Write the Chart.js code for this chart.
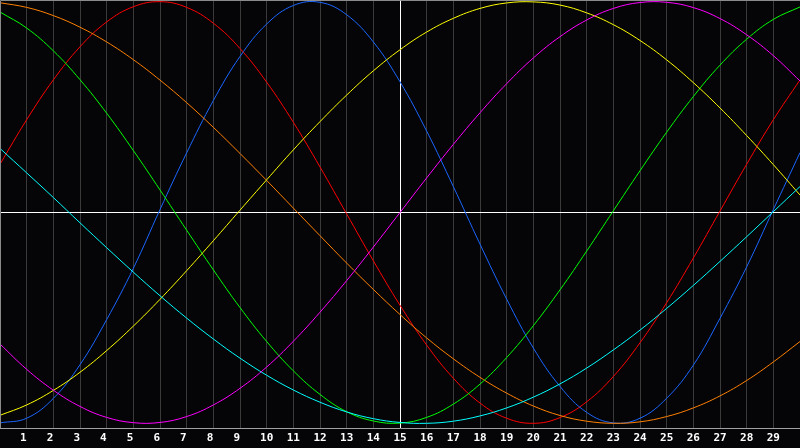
<!DOCTYPE html>
<html>
<head>
<meta charset="utf-8">
<script src="https://cdn.jsdelivr.net/npm/chart.js@4.4.1/dist/chart.umd.min.js"></script>
<style>
  html, body { margin: 0; padding: 0; background: #050508; }
  #wrap { width: 800px; height: 448px; }
</style>
</head>
<body>
<div id="wrap"><canvas id="c" width="800" height="448"></canvas></div>
<script>
const xValues = [0,1,2,3,4,5,6,7,8,9,10,11,12,13,14,15,16,17,18,19,20,21,22,23,24,25,26,27,28,29,30];
const tickLabels = ['1','2','3','4','5','6','7','8','9','10','11','12','13','14','15','16','17','18','19','20','21','22','23','24','25','26','27','28','29'];

const redSeries = [0.229,0.440,0.629,0.786,0.904,0.976,1.000,0.973,0.898,0.778,0.618,0.428,0.216,-0.007,-0.229,-0.440,-0.629,-0.786,-0.904,-0.976,-1.000,-0.973,-0.898,-0.778,-0.618,-0.428,-0.216,0.007,0.229,0.440,0.629];
const orangeSeries = [0.995,0.973,0.934,0.879,0.809,0.725,0.628,0.521,0.404,0.280,0.152,0.021,-0.110,-0.240,-0.365,-0.484,-0.595,-0.694,-0.782,-0.857,-0.918,-0.963,-0.990,-1.000,-0.993,-0.968,-0.927,-0.870,-0.797,-0.709,-0.612];
const greenSeries = [0.951,0.875,0.767,0.630,0.471,0.294,0.107,-0.084,-0.272,-0.451,-0.612,-0.751,-0.863,-0.945,-0.989,-0.999,-0.972,-0.909,-0.814,-0.688,-0.537,-0.367,-0.183,0.008,0.198,0.381,0.550,0.699,0.822,0.916,0.975];
const yellowSeries = [-0.962,-0.913,-0.844,-0.758,-0.655,-0.539,-0.412,-0.276,-0.134,0.011,0.155,0.297,0.431,0.557,0.672,0.772,0.856,0.921,0.968,0.994,0.999,0.984,0.947,0.891,0.816,0.724,0.616,0.496,0.365,0.227,0.083];
const blueSeries = [-0.998,-0.976,-0.882,-0.722,-0.508,-0.265,0.014,0.283,0.531,0.740,0.894,0.982,0.997,0.938,0.809,0.620,0.386,0.123,-0.150,-0.411,-0.643,-0.825,-0.948,-0.998,-0.976,-0.881,-0.724,-0.502,-0.258,0.014,0.284];
const magentaSeries = [-0.624,-0.744,-0.843,-0.920,-0.972,-0.997,-0.996,-0.968,-0.913,-0.834,-0.733,-0.611,-0.473,-0.323,-0.164,0.000,0.164,0.323,0.473,0.611,0.733,0.834,0.913,0.968,0.996,0.997,0.972,0.920,0.843,0.744,0.624];
const cyanSeries = [0.304,0.188,0.071,-0.049,-0.167,-0.283,-0.395,-0.501,-0.600,-0.691,-0.772,-0.842,-0.900,-0.946,-0.978,-0.996,-1.000,-0.990,-0.965,-0.927,-0.876,-0.813,-0.738,-0.652,-0.558,-0.455,-0.346,-0.232,-0.115,0.004,0.123];

const seriesList = [
  { name: 'Magenta', values: magentaSeries, color: '#ff00ff' },
  { name: 'Cyan', values: cyanSeries, color: '#00ffff' },
  { name: 'Yellow', values: yellowSeries, color: '#ffff00' },
  { name: 'Green', values: greenSeries, color: '#00ff00' },
  { name: 'Orange', values: orangeSeries, color: '#ff8000' },
  { name: 'Blue', values: blueSeries, color: '#1a66ff' },
  { name: 'Red', values: redSeries, color: '#ff0000' }
];

const bgPlugin = {
  id: 'bg',
  beforeDraw(chart) {
    const c = chart.ctx;
    c.save();
    c.fillStyle = '#050508';
    c.fillRect(0, 0, chart.width, chart.height);
    c.restore();
  },
  beforeDatasetsDraw(chart) {
    const c = chart.ctx;
    const a = chart.chartArea;
    const yPix = Math.round(chart.scales.y.getPixelForValue(0)) + 0.5;
    c.save();
    c.strokeStyle = '#ffffff';
    c.lineWidth = 1;
    c.beginPath();
    c.moveTo(a.left, yPix);
    c.lineTo(a.right, yPix);
    c.stroke();
    c.restore();
  },
  afterDraw(chart) {
    const c = chart.ctx;
    const a = chart.chartArea;
    c.save();
    c.strokeStyle = '#8a8a8a';
    c.lineWidth = 1;
    c.beginPath();
    c.moveTo(a.left + 0.5, a.bottom);
    c.lineTo(a.left + 0.5, a.top + 0.5);
    c.lineTo(a.right, a.top + 0.5);
    c.stroke();
    c.restore();
  }
};

new Chart(document.getElementById('c'), {
  type: 'line',
  data: {
    datasets: seriesList.map(s => ({
      label: s.name,
      data: xValues.map((x, i) => ({ x: x, y: s.values[i] })),
      borderColor: s.color,
      borderWidth: 1,
      pointRadius: 0,
      tension: 0.4,
      fill: false
    }))
  },
  options: {
    responsive: false,
    animation: false,
    devicePixelRatio: 1,
    layout: { padding: 0 },
    plugins: { legend: { display: false }, tooltip: { enabled: false } },
    scales: {
      x: {
        type: 'linear',
        min: 0,
        max: 30,
        afterBuildTicks(scale) {
          scale.ticks = tickLabels.map(t => ({ value: Number(t) }));
        },
        grid: {
          color: ctx => (ctx.tick && ctx.tick.value === 15) ? '#ffffff' : '#3a3a3a',
          drawTicks: false,
          lineWidth: 1
        },
        border: { color: '#a0a0a0', width: 1 },
        ticks: {
          autoSkip: false,
          maxRotation: 0,
          padding: 3.4,
          color: '#ffffff',
          font: { family: 'DejaVu Sans Mono', weight: 'bold', size: 11 },
          callback(value) {
            const s = String(value);
            return s.length < 2 ? s + ' ' : s;
          }
        }
      },
      y: {
        display: false,
        min: -1.0223,
        max: 1.008
      }
    }
  },
  plugins: [bgPlugin]
});
</script>
</body>
</html>
